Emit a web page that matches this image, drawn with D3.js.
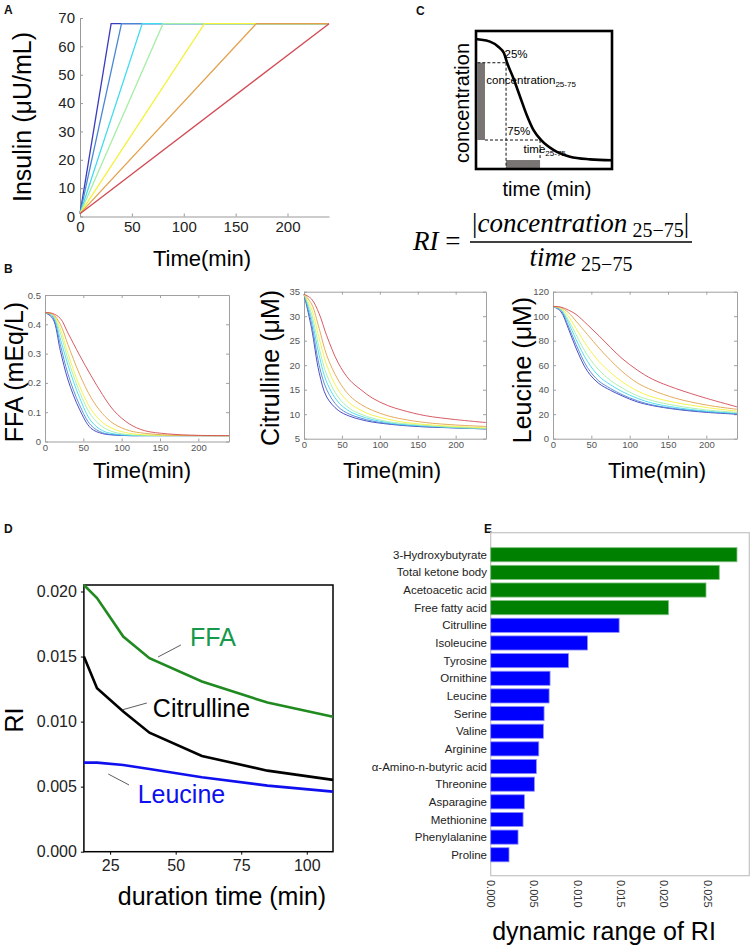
<!DOCTYPE html>
<html><head><meta charset="utf-8">
<script src="https://cdn.jsdelivr.net/npm/d3@7"></script>
<style>
body{margin:0;background:#fff}
svg{display:block;font-family:"Liberation Sans",Arial,sans-serif}
</style>
</head><body>
<svg id="fig" width="751" height="949"></svg>
<script>
// ================= DATA =================
// Panel A: insulin ramps (min to reach peak), start and peak level
const insulinDurations = [30, 40, 60, 80, 120, 170, 240];
const insulinStart = 1;
const insulinPeak = 68;
const insulinEnd = 240;
const insulinTicksX = [0, 50, 100, 150, 200];
const insulinTicksY = [0, 10, 20, 30, 40, 50, 60, 70];
const curveColors = ["#3b3bbf", "#4a86d4", "#3fdcef", "#a6eea6", "#f4f23c", "#e2a24c", "#d24a55"];

// Panel B: simulated time courses (one row per insulin duration)
const bTimes = [0, 10, 20, 30, 45, 60, 75, 90, 110, 130, 160, 200, 240];
const ffaSeries = [
  [0.44, 0.42, 0.31, 0.21, 0.11, 0.045, 0.027, 0.022, 0.02, 0.02, 0.02, 0.02, 0.02],
  [0.44, 0.425, 0.33, 0.23, 0.125, 0.055, 0.03, 0.023, 0.02, 0.02, 0.02, 0.02, 0.02],
  [0.44, 0.43, 0.35, 0.26, 0.15, 0.07, 0.037, 0.026, 0.021, 0.02, 0.02, 0.02, 0.02],
  [0.44, 0.432, 0.37, 0.28, 0.17, 0.09, 0.05, 0.032, 0.023, 0.021, 0.02, 0.02, 0.02],
  [0.44, 0.434, 0.385, 0.30, 0.19, 0.11, 0.065, 0.042, 0.028, 0.023, 0.021, 0.02, 0.02],
  [0.44, 0.435, 0.40, 0.33, 0.23, 0.15, 0.095, 0.06, 0.037, 0.028, 0.022, 0.02, 0.02],
  [0.44, 0.437, 0.42, 0.37, 0.295, 0.225, 0.16, 0.105, 0.06, 0.037, 0.026, 0.021, 0.02]
];
const citSeries = [
  [34.5, 27.5, 18.5, 13.5, 10.8, 9.6, 8.9, 8.4, 8.0, 7.7, 7.4, 7.2, 7.0],
  [34.5, 28.5, 20, 15, 11.5, 10, 9.2, 8.6, 8.1, 7.8, 7.5, 7.2, 7.0],
  [34.5, 29.5, 22, 16.5, 12.5, 10.6, 9.6, 8.9, 8.3, 7.9, 7.6, 7.3, 7.1],
  [34.5, 30.5, 23.5, 18, 13.5, 11.2, 10, 9.2, 8.5, 8.1, 7.7, 7.3, 7.1],
  [34.5, 31.5, 25.5, 20, 15, 12.3, 10.8, 9.8, 9.0, 8.4, 7.9, 7.5, 7.2],
  [34.5, 32.5, 27.5, 22, 17, 13.8, 12, 10.8, 9.7, 9.0, 8.3, 7.8, 7.5],
  [34.5, 33.5, 30.5, 26, 20.5, 17, 15, 13.3, 11.8, 10.8, 9.7, 8.9, 8.3]
];
const leuSeries = [
  [108, 104, 90, 74, 55, 45, 39.5, 35, 30, 27, 24, 21.5, 20],
  [108, 105, 92, 77, 58, 47, 41, 36, 31, 27.5, 24.5, 22, 20.3],
  [108, 105.5, 95, 81, 63, 51, 44, 38.5, 33, 29, 25.5, 22.5, 20.8],
  [108, 106, 97, 85, 68, 56, 47.5, 41.5, 35, 31, 27, 23.5, 21.5],
  [108, 106.5, 100, 90, 75, 63, 54, 46.5, 39, 34, 29.5, 25.5, 22.5],
  [108, 107, 103, 96, 85, 74, 64, 55, 45.5, 39.5, 33, 27.5, 24],
  [108, 107.5, 105, 101.5, 93, 84, 74.5, 65.5, 56, 48.5, 41, 33, 26]
];

// Panel C: schematic decay curve (arbitrary units 0..100)
const schemTime = [0, 1.2, 10.3, 16.4, 20.6, 23.0, 27.5, 32.4, 37.3, 42.2, 48.3, 56.9, 69.1, 83.8, 100];
const schemConc = [94.2, 94.0, 92.3, 88.6, 83.8, 76.6, 65.7, 52.4, 39.1, 28.3, 20.5, 13.8, 8.9, 7.0, 6.3];
const schemLevels = { t25: 22.1, c25: 77, t75: 47.1, c75: 21 };

// Panel D: RI vs duration time
const durationTimes = [15, 20, 30, 40, 60, 85, 110];
const riFFA = [0.0205, 0.0195, 0.01654, 0.01487, 0.01308, 0.01146, 0.01038];
const riCit = [0.0150, 0.01257, 0.01077, 0.00915, 0.00736, 0.00623, 0.00552];
const riLeu = [0.00685, 0.00685, 0.00667, 0.00636, 0.00572, 0.00508, 0.00462];
const dTicksX = [25, 50, 75, 100];
const dTicksY = [0, 0.005, 0.010, 0.015, 0.020];

// Panel E: dynamic range of RI
const eNames = ["3-Hydroxybutyrate", "Total ketone body", "Acetoacetic acid", "Free fatty acid",
  "Citrulline", "Isoleucine", "Tyrosine", "Ornithine", "Leucine", "Serine", "Valine", "Arginine",
  "α-Amino-n-butyric acid", "Threonine", "Asparagine", "Methionine", "Phenylalanine", "Proline"];
const eValues = [0.02838, 0.02634, 0.02481, 0.02049, 0.01480, 0.01115, 0.00896, 0.00684, 0.00673,
  0.00615, 0.00607, 0.00554, 0.00526, 0.00503, 0.00388, 0.00373, 0.00315, 0.00211];
const eGroups = ["lipid", "lipid", "lipid", "lipid", "amino", "amino", "amino", "amino", "amino",
  "amino", "amino", "amino", "amino", "amino", "amino", "amino", "amino", "amino"];
const eTicks = [0, 0.005, 0.010, 0.015, 0.020, 0.025];

// ================= DRAW =================
const svg = d3.select("#fig");

function letter(t, x, y) {
  svg.append("text").attr("x", x).attr("y", y).attr("font-size", 12)
    .attr("font-weight", "bold").attr("fill", "#111").text(t);
}
letter("A", 4, 14);
letter("B", 4, 273);
letter("C", 416, 15);
letter("D", 4, 533);
letter("E", 484, 533);

// ---------- Panel A ----------
(function () {
  const x = d3.scaleLinear().domain([0, 240]).range([80, 329]);
  const y = d3.scaleLinear().domain([0, 70]).range([216.5, 18]);
  const g = svg.append("g");
  const gx = g.append("g").attr("transform", `translate(0,${y(0)})`)
    .call(d3.axisBottom(x).tickValues(insulinTicksX).tickSizeInner(-3).tickSizeOuter(0).tickPadding(5));
  const gy = g.append("g").attr("transform", `translate(${x(0)},0)`)
    .call(d3.axisLeft(y).tickValues(insulinTicksY).tickSizeInner(-3).tickSizeOuter(0).tickPadding(5));
  [gx, gy].forEach(a => {
    a.attr("font-family", null);
    a.select(".domain").attr("stroke", "#999");
    a.selectAll(".tick line").attr("stroke", "#999");
    a.selectAll(".tick text").attr("font-size", 15).attr("fill", "#222");
  });
  const line = d3.line().x(d => x(d[0])).y(d => y(d[1]));
  insulinDurations.forEach((T, i) => {
    g.append("path").attr("d", line([[0, insulinStart], [T, insulinPeak], [insulinEnd, insulinPeak]]))
      .attr("fill", "none").attr("stroke", curveColors[i]).attr("stroke-width", 1.3);
  });
  g.append("text").attr("transform", "translate(22,117) rotate(-90)").attr("text-anchor", "middle")
    .attr("dy", "0.35em").attr("font-size", 25).text("Insulin (μU/mL)");
  g.append("text").attr("x", 202).attr("y", 266).attr("text-anchor", "middle")
    .attr("font-size", 22).text("Time(min)");
})();

// ---------- Panel B ----------
function decayPanel(o) {
  const x = d3.scaleLinear().domain([0, 240]).range([o.left, o.right]);
  const y = d3.scaleLinear().domain(o.yDomain).range([o.bottom, o.top]);
  const g = svg.append("g");
  const axes = [
    g.append("g").attr("transform", `translate(0,${o.bottom})`)
      .call(d3.axisBottom(x).tickValues([0, 50, 100, 150, 200]).tickSizeInner(-3).tickSizeOuter(0).tickPadding(3)),
    g.append("g").attr("transform", `translate(${o.left},0)`)
      .call(d3.axisLeft(y).tickValues(o.yTicks).tickFormat(d3.format("~g")).tickSizeInner(-3).tickSizeOuter(0).tickPadding(4)),
    g.append("g").attr("transform", `translate(0,${o.top})`)
      .call(d3.axisTop(x).tickValues([0, 50, 100, 150, 200]).tickFormat("").tickSizeInner(-3).tickSizeOuter(0)),
    g.append("g").attr("transform", `translate(${o.right},0)`)
      .call(d3.axisRight(y).tickValues(o.yTicks).tickFormat("").tickSizeInner(-3).tickSizeOuter(0))
  ];
  axes.forEach(a => {
    a.attr("font-family", null);
    a.select(".domain").attr("stroke", "#a0a0a0");
    a.selectAll(".tick line").attr("stroke", "#a0a0a0");
    a.selectAll(".tick text").attr("font-size", 9.5).attr("fill", "#555");
  });
  const line = d3.line().x((d, i) => x(bTimes[i])).y(d => y(d)).curve(d3.curveCatmullRom.alpha(0.5));
  o.series.forEach((s, i) => {
    g.append("path").attr("d", line(s)).attr("fill", "none")
      .attr("stroke", curveColors[i]).attr("stroke-width", 1).attr("opacity", 0.9);
  });
  g.append("text").attr("transform", `translate(${o.ylx},${o.yly}) rotate(-90)`)
    .attr("text-anchor", "middle").attr("dy", "0.35em").attr("font-size", 25).text(o.ylabel);
  g.append("text").attr("x", (o.left + o.right) / 2 + o.xlShift).attr("y", 478)
    .attr("text-anchor", "middle").attr("font-size", 22).text("Time(min)");
}
decayPanel({ left: 45, right: 229, top: 295, bottom: 441.5, yDomain: [0, 0.5],
  yTicks: [0, 0.1, 0.2, 0.3, 0.4, 0.5], series: ffaSeries, ylabel: "FFA (mEq/L)", ylx: 14, yly: 372, xlShift: 5 });
decayPanel({ left: 304, right: 486, top: 291.7, bottom: 438.7, yDomain: [5, 35],
  yTicks: [5, 10, 15, 20, 25, 30, 35], series: citSeries, ylabel: "Citrulline (μM)", ylx: 270, yly: 368, xlShift: -3 });
decayPanel({ left: 553, right: 737, top: 291.7, bottom: 438.7, yDomain: [0, 120],
  yTicks: [0, 20, 40, 60, 80, 100, 120], series: leuSeries, ylabel: "Leucine (μM)", ylx: 522, yly: 370, xlShift: 12 });

// ---------- Panel C ----------
(function () {
  const x = d3.scaleLinear().domain([0, 100]).range([476, 612]);
  const y = d3.scaleLinear().domain([0, 100]).range([169, 31]);
  const g = svg.append("g");
  const gray = "#7a7575";
  g.append("rect").attr("x", x(1)).attr("y", y(schemLevels.c25)).attr("width", x(6.6) - x(1))
    .attr("height", y(schemLevels.c75) - y(schemLevels.c25)).attr("fill", gray);
  g.append("rect").attr("x", x(schemLevels.t25)).attr("y", y(6.5)).attr("width", x(schemLevels.t75) - x(schemLevels.t25))
    .attr("height", y(0.6) - y(6.5)).attr("fill", gray);
  const dash = (x1, y1, x2, y2) => g.append("line").attr("x1", x(x1)).attr("y1", y(y1)).attr("x2", x(x2)).attr("y2", y(y2))
    .attr("stroke", "#111").attr("stroke-width", 1).attr("stroke-dasharray", "3,2");
  dash(1, schemLevels.c25, schemLevels.t25, schemLevels.c25);
  dash(schemLevels.t25, schemLevels.c25, schemLevels.t25, 0);
  dash(6.6, schemLevels.c75, 48, schemLevels.c75);
  dash(schemLevels.t75, schemLevels.c75, schemLevels.t75, 6.5);
  const line = d3.line().x((d, i) => x(schemTime[i])).y(d => y(d)).curve(d3.curveMonotoneX);
  g.append("path").attr("d", line(schemConc)).attr("fill", "none").attr("stroke", "#000").attr("stroke-width", 2.6);
  g.append("rect").attr("x", x(0)).attr("y", y(100)).attr("width", x(100) - x(0)).attr("height", y(0) - y(100))
    .attr("fill", "none").attr("stroke", "#000").attr("stroke-width", 2.6);
  g.append("text").attr("x", x(21)).attr("y", y(80.5)).attr("font-size", 11.5).text("25%");
  const t1 = g.append("text").attr("x", x(7.6)).attr("y", y(61.5)).attr("font-size", 11.5);
  t1.append("tspan").text("concentration");
  t1.append("tspan").attr("font-size", 8).attr("dy", 3).text("25-75");
  g.append("text").attr("x", x(23)).attr("y", y(24.5)).attr("font-size", 11.5).text("75%");
  const t2 = g.append("text").attr("x", x(35)).attr("y", y(11.5)).attr("font-size", 11.5);
  t2.append("tspan").text("time");
  t2.append("tspan").attr("font-size", 8).attr("dy", 3).text("25-75");
  g.append("text").attr("transform", "translate(462,103) rotate(-90)").attr("text-anchor", "middle")
    .attr("dy", "0.35em").attr("font-size", 20).text("concentration");
  g.append("text").attr("x", 547).attr("y", 196).attr("text-anchor", "middle").attr("font-size", 20).text("time (min)");

  // formula
  const serif = '"Liberation Serif","Times New Roman",serif';
  const r = g.append("text").attr("x", 413).attr("y", 250).attr("font-family", serif).attr("font-size", 27);
  r.append("tspan").attr("font-style", "italic").text("RI");
  r.append("tspan").text(" = ");
  const num = g.append("text").attr("x", 472).attr("y", 232).attr("font-family", serif).attr("font-size", 27);
  num.append("tspan").text("|");
  num.append("tspan").attr("font-style", "italic").text("concentration");
  num.append("tspan").attr("font-size", 20).attr("dy", 5).text(" 25−75");
  num.append("tspan").attr("dy", -5).text("|");
  g.append("line").attr("x1", 470).attr("x2", 692).attr("y1", 242).attr("y2", 242)
    .attr("stroke", "#000").attr("stroke-width", 1.4);
  const den = g.append("text").attr("x", 581).attr("y", 266).attr("text-anchor", "middle")
    .attr("font-family", serif).attr("font-size", 27);
  den.append("tspan").attr("font-style", "italic").text("time");
  den.append("tspan").attr("font-size", 20).attr("dy", 5).text(" 25−75");
})();

// ---------- Panel D ----------
(function () {
  const x = d3.scaleLinear().domain([15, 110]).range([83.9, 333]);
  const y = d3.scaleLinear().domain([0, 0.0205]).range([851.7, 585]);
  const g = svg.append("g");
  const gx = g.append("g").attr("transform", `translate(0,${y(0)})`)
    .call(d3.axisBottom(x).tickValues(dTicksX).tickSizeInner(3).tickSizeOuter(0).tickPadding(5));
  const gy = g.append("g").attr("transform", `translate(${x(15)},0)`)
    .call(d3.axisLeft(y).tickValues(dTicksY).tickFormat(d3.format(".3f")).tickSizeInner(3).tickSizeOuter(0).tickPadding(4));
  [gx, gy].forEach(a => {
    a.attr("font-family", null);
    a.select(".domain").remove();
    a.selectAll(".tick line").attr("stroke", "#000");
    a.selectAll(".tick text").attr("font-size", 16).attr("fill", "#222");
  });
  g.append("rect").attr("x", x(15)).attr("y", y(0.0205)).attr("width", x(110) - x(15))
    .attr("height", y(0) - y(0.0205)).attr("fill", "none").attr("stroke", "#000").attr("stroke-width", 1.5);
  const line = d3.line().x((d, i) => x(durationTimes[i])).y(d => y(d));
  [[riFFA, "#208a20"], [riCit, "#000000"], [riLeu, "#1010ee"]].forEach(([s, c]) => {
    g.append("path").attr("d", line(s)).attr("fill", "none").attr("stroke", c).attr("stroke-width", 2.6);
  });
  const lead = (x1, y1, x2, y2) => g.append("line").attr("x1", x(x1)).attr("y1", y(y1)).attr("x2", x(x2)).attr("y2", y(y2))
    .attr("stroke", "#333").attr("stroke-width", 0.8);
  lead(43.3, 0.01497, 52.0, 0.01589);
  lead(29.4, 0.01089, 39.0, 0.01143);
  lead(24.3, 0.00597, 32.2, 0.00513);
  g.append("text").attr("x", x(55.5)).attr("y", y(0.01581)).attr("font-size", 25).attr("fill", "#17984a").text("FFA");
  g.append("text").attr("x", x(41.3)).attr("y", y(0.01038)).attr("font-size", 25).attr("fill", "#000").text("Citrulline");
  g.append("text").attr("x", x(35.5)).attr("y", y(0.00374)).attr("font-size", 25).attr("fill", "#1010ee").text("Leucine");
  g.append("text").attr("transform", "translate(14,720) rotate(-90)").attr("text-anchor", "middle")
    .attr("dy", "0.35em").attr("font-size", 25).text("RI");
  g.append("text").attr("x", 222).attr("y", 905).attr("text-anchor", "middle").attr("font-size", 25).text("duration time (min)");
})();

// ---------- Panel E ----------
(function () {
  const x = d3.scaleLinear().domain([0, 0.0298]).range([490.7, 749.3]);
  const y = d3.scaleBand().domain(eNames).range([545.9, 863.6]).paddingInner(0.2).paddingOuter(0.1);
  const g = svg.append("g");
  const colorOf = { lipid: "#008000", amino: "#0000ff" };
  const strokeOf = { lipid: "#7fc07f", amino: "#8c8cff" };
  g.append("rect").attr("x", 490.7).attr("y", 532.7).attr("width", 749.3 - 490.7).attr("height", 875.7 - 532.7)
    .attr("fill", "none").attr("stroke", "#c4c4c4").attr("stroke-width", 1.2);
  g.selectAll("rect.bar").data(eNames).join("rect").attr("class", "bar")
    .attr("x", x(0)).attr("y", d => y(d))
    .attr("width", (d, i) => x(eValues[i]) - x(0)).attr("height", y.bandwidth())
    .attr("fill", (d, i) => colorOf[eGroups[i]]).attr("stroke", (d, i) => strokeOf[eGroups[i]]).attr("stroke-width", 0.8);
  g.selectAll("text.cat").data(eNames).join("text").attr("class", "cat")
    .attr("x", 487).attr("y", d => y(d) + y.bandwidth() / 2).attr("dy", "0.35em")
    .attr("text-anchor", "end").attr("font-size", 11.5).attr("fill", "#222").text(d => d);
  g.selectAll("text.tk").data(eTicks).join("text").attr("class", "tk")
    .attr("transform", d => `translate(${x(d)},880) rotate(90)`).attr("dy", "0.35em")
    .attr("font-size", 11).attr("fill", "#333").text(d3.format(".3f"));
  g.append("text").attr("x", 604).attr("y", 940).attr("text-anchor", "middle").attr("font-size", 25).text("dynamic range of RI");
})();
</script>
</body></html>
